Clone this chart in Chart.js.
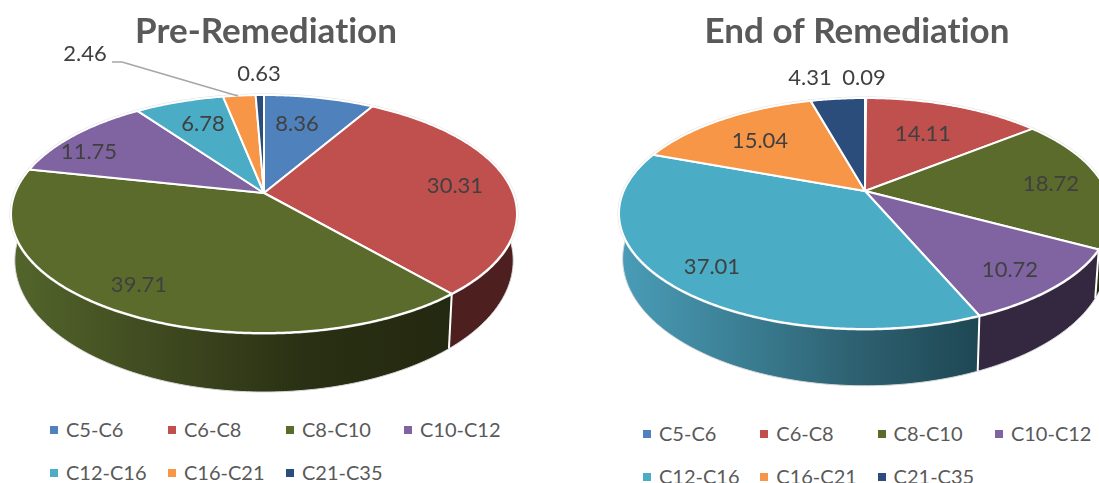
<!DOCTYPE html>
<html>
<head>
<meta charset="utf-8">
<title>Carbon range distribution</title>
<script src="https://cdn.jsdelivr.net/npm/chart.js@4/dist/chart.umd.min.js"></script>
<style>
    html, body { margin: 0; padding: 0; background: #fff; overflow: hidden; width: 1099px; height: 483px; }
    canvas { position: absolute; top: 0; }
    #preChart { left: 0; }
    #endChart { left: 600px; }
    .legend { position: absolute; display: grid; grid-auto-rows: 43px; font: 20px Lato, sans-serif; color: #595959; white-space: nowrap; }
    .legend div { display: flex; align-items: center; }
    .legend i { width: 8px; height: 8px; margin-right: 8px; margin-top: 2px; }
</style>
</head>
<body>
<canvas id="preChart" width="532" height="400"></canvas>
<canvas id="endChart" width="514" height="400"></canvas>
<div class="legend" id="preLegend" style="left:50px;top:407px;grid-template-columns:repeat(4,118px)"></div>
<div class="legend" id="endLegend" style="left:643px;top:411px;grid-template-columns:repeat(4,117.3px)"></div>
<script>
// Chart data
const categories = ['C5-C6', 'C6-C8', 'C8-C10', 'C10-C12', 'C12-C16', 'C16-C21', 'C21-C35'];
const preValues = [8.36, 30.31, 39.71, 11.75, 6.78, 2.46, 0.63];
const endValues = [0.09, 14.11, 18.72, 10.72, 37.01, 15.04, 4.31];

// Slice colours
const topColors = ['#4f81bd', '#c0504d', '#5b6b2b', '#8064a2', '#4bacc6', '#f79646', '#2a4d7c'];
const preWalls = [['#2a4566'], ['#4d1f1f'], ['#53652b', '#3f4a20', '#2a3013', '#232810'], ['#453658'], ['#2d6070'], ['#8a5226'], ['#182c47']];
const endWalls = [['#2a4566'], ['#4d1f1f'], ['#262c10'], ['#33283f'], ['#4a9db8', '#3b7f94', '#2d6070', '#1e4753'], ['#8a5226'], ['#182c47']];

// Perspective of each disc, in canvas pixels
const preView = { cx: 264, cy: 193, a: 249, b: 115.3, persp: 0.1765, sx: 0.985, sy: 1.105, drop: 44.3 };
const endView = { cx: 265, cy: 191, a: 241.3, b: 111.1, persp: 0.1948, sx: 0.985, sy: 1.1, drop: 43 };

// Label centres, relative to the pie centre
const preLabelAt = [[33, -69], [191, -7], [-125, 92], [-175, -41], [-61, -69], [-179, -139], [-5, -119]];
const endLabelAt = [[-1, -113], [58, -57], [186, -7], [145, 79], [-153, 76], [-105, -50], [-55, -113]];

// Leader line for the 2.46 label
const preLeader = [[-152, -131], [-142, -131], [-26, -97]];

Chart.defaults.font.family = 'Lato, sans-serif';
Chart.defaults.animation = false;

// Map an angle (clockwise from the top) onto the tilted disc
function project(view, theta) {
    const w = 1 + view.persp * Math.cos(theta);
    return [view.cx + view.a * Math.sin(theta) / w, view.cy - view.b * Math.cos(theta) / w];
}

// Same point on the lower rim
function lower(view, p) {
    return [view.cx + view.sx * (p[0] - view.cx), view.cy + view.sy * (p[1] - view.cy) + view.drop];
}

function rimPoints(view, from, to) {
    const steps = Math.max(2, Math.ceil((to - from) / 0.01));
    const points = [];
    for (let i = 0; i <= steps; i++) {
        points.push(project(view, from + (to - from) * i / steps));
    }
    return points;
}

function tracePath(ctx, points) {
    points.forEach(function(p, i) {
        if (i === 0) ctx.moveTo(p[0], p[1]);
        else ctx.lineTo(p[0], p[1]);
    });
}

function wallFill(ctx, points, stops) {
    const xs = points.map(p => p[0]);
    const gradient = ctx.createLinearGradient(Math.min(...xs), 0, Math.max(...xs), 0);
    stops.forEach(function(color, i) {
        gradient.addColorStop(stops.length > 1 ? i / (stops.length - 1) : 0, color);
    });
    return gradient;
}

// Draws the pie arcs as a tilted 3D disc, using the angles the doughnut controller worked out
const tiltedPie = {
    id: 'tiltedPie',
    // A tiny letter spacing keeps "ti" as two separate letters in the title
    beforeDraw(chart) {
        chart.ctx.letterSpacing = '0.01px';
    },
    beforeDatasetsDraw(chart, args, opts) {
        const ctx = chart.ctx;
        const view = opts.view;
        const arcs = chart.getDatasetMeta(0).data;
        const slices = arcs.map(function(arc) {
            const from = arc.startAngle + Math.PI / 2;
            const to = arc.endAngle + Math.PI / 2;
            return { arc: arc, from: from, to: to, rim: rimPoints(view, from, to) };
        });

        ctx.save();
        ctx.lineJoin = 'round';

        // Side walls
        slices.forEach(function(slice, i) {
            const bottom = slice.rim.map(p => lower(view, p));
            ctx.beginPath();
            tracePath(ctx, slice.rim.concat(bottom.slice().reverse()));
            ctx.closePath();
            ctx.fillStyle = wallFill(ctx, slice.rim, opts.walls[i]);
            ctx.fill();
        });

        // Thin pale edge along the bottom of the wall
        ctx.beginPath();
        tracePath(ctx, rimPoints(view, 0, Math.PI * 2).map(p => lower(view, p)));
        ctx.closePath();
        ctx.strokeStyle = '#d9d9d9';
        ctx.lineWidth = 1;
        ctx.stroke();

        // White seams down the wall between slices
        ctx.strokeStyle = '#fff';
        ctx.lineWidth = 2;
        slices.forEach(function(slice) {
            const p = slice.rim[0];
            const q = lower(view, p);
            ctx.beginPath();
            ctx.moveTo(p[0], p[1]);
            ctx.lineTo(q[0], q[1]);
            ctx.stroke();
        });

        // Faint outline of the top disc
        ctx.beginPath();
        tracePath(ctx, rimPoints(view, 0, Math.PI * 2));
        ctx.closePath();
        ctx.strokeStyle = '#e0e0e0';
        ctx.lineWidth = 3;
        ctx.stroke();

        // Top surface
        slices.forEach(function(slice) {
            ctx.beginPath();
            tracePath(ctx, [[view.cx, view.cy]].concat(slice.rim));
            ctx.closePath();
            ctx.fillStyle = slice.arc.options.backgroundColor;
            ctx.fill();
            ctx.strokeStyle = '#fff';
            ctx.lineWidth = 2;
            ctx.stroke();
        });

        // Leader line
        if (opts.leader) {
            ctx.beginPath();
            tracePath(ctx, opts.leader.map(p => [view.cx + p[0], view.cy + p[1]]));
            ctx.strokeStyle = '#a6a6a6';
            ctx.lineWidth = 1.5;
            ctx.stroke();
        }

        // Value labels
        ctx.font = '22px Lato, sans-serif';
        ctx.fillStyle = '#404040';
        ctx.textAlign = 'center';
        ctx.textBaseline = 'middle';
        chart.data.datasets[0].data.forEach(function(value, i) {
            ctx.fillText(value.toFixed(2), view.cx + opts.labelAt[i][0], view.cy + opts.labelAt[i][1]);
        });

        ctx.restore();
        return false;
    }
};

function makePie(canvasId, title, values, options) {
    return new Chart(document.getElementById(canvasId), {
        type: 'pie',
        data: {
            labels: categories,
            datasets: [{ data: values, backgroundColor: topColors, borderColor: '#fff', borderWidth: 2 }]
        },
        options: {
            responsive: false,
            plugins: {
                legend: { display: false },
                tooltip: { enabled: false },
                title: {
                    display: true,
                    text: title,
                    color: '#595959',
                    font: { size: 35, weight: 'bold' },
                    padding: { top: 11, bottom: 0 }
                },
                tiltedPie: options
            }
        },
        plugins: [tiltedPie]
    });
}

// Legend rows are laid out on a fixed grid
function makeLegend(elementId) {
    const box = document.getElementById(elementId);
    categories.forEach(function(name, i) {
        const item = document.createElement('div');
        const mark = document.createElement('i');
        mark.style.background = topColors[i];
        item.appendChild(mark);
        item.appendChild(document.createTextNode(name));
        box.appendChild(item);
    });
}

makePie('preChart', 'Pre-Remediation', preValues, { view: preView, walls: preWalls, labelAt: preLabelAt, leader: preLeader });
makePie('endChart', 'End of Remediation', endValues, { view: endView, walls: endWalls, labelAt: endLabelAt });
makeLegend('preLegend');
makeLegend('endLegend');
</script>
</body>
</html>
